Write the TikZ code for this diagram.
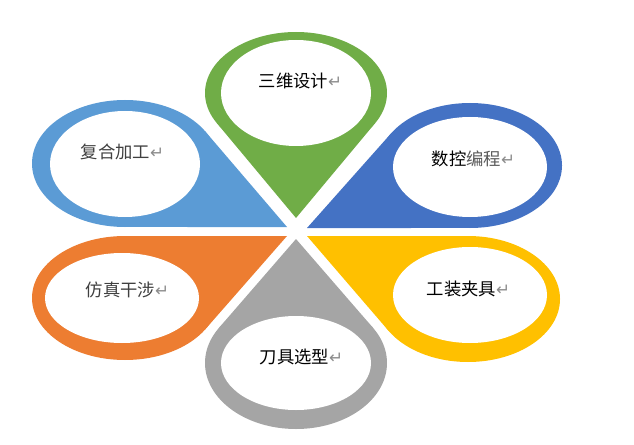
\documentclass[tikz,border=0pt]{standalone}
\usepackage{fontspec}
\newfontfamily\cjk{Noto Sans CJK SC}
\newfontfamily\dvsans{DejaVu Sans}
\definecolor{pgreen}{HTML}{70AD47}
\definecolor{plblue}{HTML}{5B9BD5}
\definecolor{pdblue}{HTML}{4472C4}
\definecolor{porange}{HTML}{ED7D31}
\definecolor{pyellow}{HTML}{FFC000}
\definecolor{pgray}{HTML}{A5A5A5}
\definecolor{tdark}{HTML}{404040}
\definecolor{tmid}{HTML}{595959}
\definecolor{retgray}{HTML}{8C8C8C}
\newcommand\retmark{{\dvsans\fontsize{12.5}{14}\selectfont\color{retgray}↵}}
\newcommand\mypetal[7]{%
  \pgfmathsetmacro\PetU{(#6-#2)/#4}%
  \pgfmathsetmacro\PetV{(#7-#3)/#5}%
  \pgfmathsetmacro\PetAng{atan2(\PetV,\PetU)}%
  \pgfmathsetmacro\PetDel{acos(1/sqrt(\PetU*\PetU+\PetV*\PetV))}%
  \pgfmathsetmacro\PetAx{#2+#4*cos(\PetAng+\PetDel)}%
  \pgfmathsetmacro\PetAy{#3+#5*sin(\PetAng+\PetDel)}%
  \pgfmathsetmacro\PetBx{#2+#4*cos(\PetAng-\PetDel)}%
  \pgfmathsetmacro\PetBy{#3+#5*sin(\PetAng-\PetDel)}%
  \fill[#1] (#2,#3) ellipse[x radius=#4, y radius=#5];
  \fill[#1] (#6,#7) -- (\PetAx,\PetAy) -- (#2,#3) -- (\PetBx,\PetBy) -- cycle;
}
\tikzset{
  hole/.style={fill=white},
  lbl/.style={inner sep=0pt, font=\cjk\fontsize{13}{15}\selectfont,
    text height=0.88em, text depth=0.12em, anchor=center},
}
\begin{document}
\begin{tikzpicture}[x=0.75pt, y=-0.75pt]
\useasboundingbox (0,0) rectangle (634,445);
% petals: color, cx, cy, a, b, tipx, tipy
\mypetal{pgreen}{296}{93}{91}{61}{296}{218}
\mypetal{pgray}{296}{363}{91}{66}{296}{239}
\mypetal{plblue}{125}{163.5}{93}{63.5}{287}{227}
\mypetal{porange}{125}{298}{93}{62}{287}{236}
\mypetal{pdblue}{470}{165.5}{92}{62.5}{307}{228}
\mypetal{pyellow}{468}{299}{92}{63}{307}{236}
% inner white ellipses
\fill[hole] (296,93) ellipse[x radius=75, y radius=53];
\fill[hole] (296,363) ellipse[x radius=75, y radius=47];
\fill[hole] (125,164) ellipse[x radius=75, y radius=53];
\fill[hole] (122,298) ellipse[x radius=77, y radius=45];
\fill[hole] (470,167) ellipse[x radius=77, y radius=50];
\fill[hole] (470,295) ellipse[x radius=77, y radius=48];
% labels
\node[lbl] (t1) at (300.5,82) {三维设计\retmark};
\node[lbl, text=tdark] (t2) at (122.5,153) {复合加工\retmark};
\node[lbl] (t3) at (473.5,160) {数控\textcolor{tmid}{编程}\retmark};
\node[lbl, text=tdark] (t4) at (127.5,291) {仿真干涉\retmark};
\node[lbl] (t5) at (468.5,290) {工装夹具\retmark};
\node[lbl] (t6) at (301.5,358) {刀具选型\retmark};
\end{tikzpicture}
\end{document}
